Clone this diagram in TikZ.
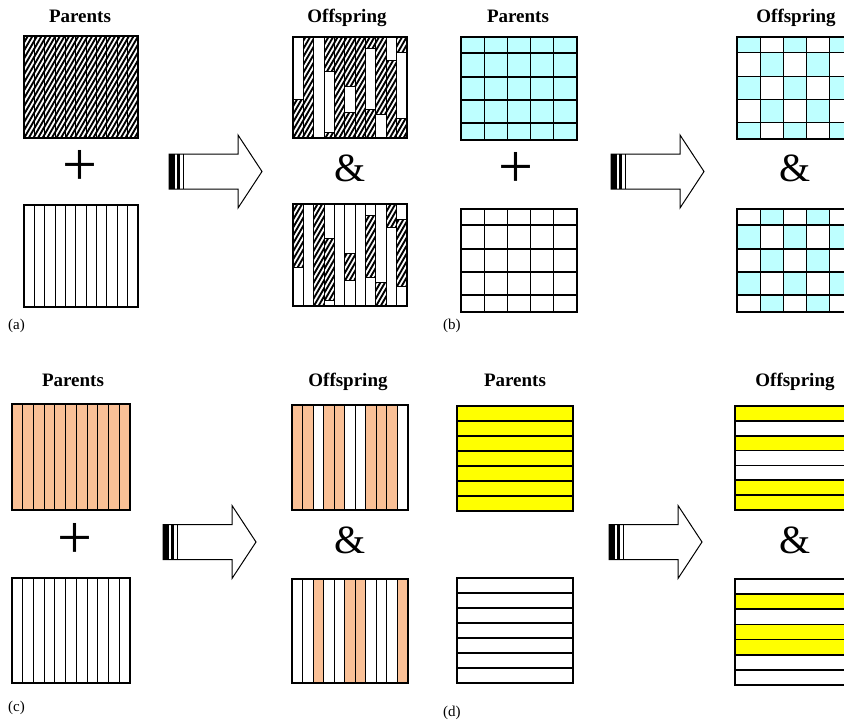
\documentclass[tikz,border=0pt]{standalone}
\usepackage{fontspec}
\setmainfont{Liberation Serif}
\definecolor{cyanL}{RGB}{190,255,255}
\definecolor{orangeL}{RGB}{250,192,150}
\definecolor{yel}{RGB}{255,255,0}
\tikzset{
 hatchline/.style={draw=black, line width=1.9pt},
 title/.style={font=\bfseries\fontsize{19}{19}\selectfont, inner sep=0pt, anchor=base},
 panellabel/.style={font=\fontsize{15}{15}\selectfont, inner sep=0pt, anchor=base west},
 plus/.style={font=\fontsize{62}{62}\selectfont, inner sep=0pt},
 amp/.style={font=\fontsize{40}{40}\selectfont, inner sep=0pt},
 boxline/.style={draw=black, line width=1.4pt},
 sep/.style={draw=black, line width=1pt},
 bigarrow/.pic={
  \draw[line width=1pt, fill=white] (0,-17.5) -- (69,-17.5) -- (69,-36.5) -- (93,0) -- (69,36.5) -- (69,17.5) -- (0,17.5) -- cycle;
  \fill[black] (0,-17.5) rectangle (6,17.5);
  \fill[black] (8.3,-17.5) rectangle (11,17.5);
  \draw[line width=1pt] (14,-17.5) -- (14,17.5);
 }
}
% hatched rectangle (diagonal lines rising to the right): x0 y0 x1 y1
\newcommand\hatchrect[4]{%
  \begin{scope}
   \clip ({#1},{#2}) rectangle ({#3},{#4});
   \fill[white] ({#1},{#2}) rectangle ({#3},{#4});
   \foreach \t in {-70,-65.4,...,120} \draw[hatchline] ({#1+\t},{#4+2}) -- ++(70,-121.2);
  \end{scope}
}
% vertical strips box: x0 y0 x1 y1
\newcommand\vstripsbox[4]{%
  \foreach \k in {1,...,10} \draw[sep] ({#1+\k*(#3-#1)/11},#2) -- ({#1+\k*(#3-#1)/11},#4);
  \draw[boxline] (#1,#2) rectangle (#3,#4);
}
% horizontal rows box (7 rows): x0 y0 x1 y1
\newcommand\hrowsbox[4]{%
  \foreach \k in {1,...,6} \draw[line width=1.6pt] (#1,{#2+\k*(#4-#2)/7}) -- (#3,{#2+\k*(#4-#2)/7});
  \draw[boxline] (#1,#2) rectangle (#3,#4);
}
% grid box 5x5 with uneven rows: x0 y0 x1 y1
\newcommand\gridbox[4]{%
  \foreach \k in {1,...,4} \draw[line width=1.3pt] ({#1+\k*(#3-#1)/5},#2) -- ({#1+\k*(#3-#1)/5},#4);
  \foreach \f in {0.155,0.388,0.612,0.835} \draw[line width=1.3pt] (#1,{#2+\f*(#4-#2)}) -- (#3,{#2+\f*(#4-#2)});
  \draw[boxline] (#1,#2) rectangle (#3,#4);
}
\begin{document}
\begin{tikzpicture}[x=1pt,y=-1pt]
\useasboundingbox (0,0) rectangle (844,720);
\clip (0,0) rectangle (844,720);
\fill[white] (0,0) rectangle (844,720);

% ================= panel (a)
\node[title] (tpa) at (80,22.5) {Parents};
\node[title] (toa) at (347,22.5) {Offspring};
\hatchrect{24}{36}{138}{138}
\vstripsbox{24}{36}{138}{138}
\node[plus] (plusa) at (80,168) {+};
\vstripsbox{24}{205}{138}{307}
\pic at (169,171.5) {bigarrow};
% offspring top
\hatchrect{293}{37}{407}{138}
\foreach \s/\a/\b in {0/0/0.62, 2/0/1, 3/0.34/0.95, 5/0.49/0.75, 7/0.11/0.72, 8/0.77/1, 9/0/0.23, 10/0.15/0.81}
  \draw[sep, fill=white] ({293+\s*114/11},{37+\a*101}) rectangle ({293+(\s+1)*114/11},{37+\b*101});
\vstripsbox{293}{37}{407}{138}
\node[amp] (ampa) at (350,168) {\&};
% offspring bottom
\foreach \s/\a/\b in {0/0/0.62, 2/0/1, 3/0.34/0.95, 5/0.49/0.75, 7/0.11/0.72, 8/0.77/1, 9/0/0.23, 10/0.15/0.81}{
  \hatchrect{293+\s*114/11}{204+\a*102}{293+(\s+1)*114/11}{204+\b*102}
  \draw[sep] ({293+\s*114/11},{204+\a*102}) rectangle ({293+(\s+1)*114/11},{204+\b*102});
}
\vstripsbox{293}{204}{407}{306}
\node[panellabel] (la) at (8,329) {(a)};

% ================= panel (b)
\node[title] (tpb) at (518,22.5) {Parents};
\node[title] (tob) at (796,22.5) {Offspring};
\fill[cyanL] (461,37) rectangle (577,140);
\gridbox{461}{37}{577}{140}
\node[plus] (plusb) at (516,170) {+};
\gridbox{461}{209}{577}{312}
\pic at (611,171.5) {bigarrow};
% offspring (checkerboard)
\foreach \i in {0,...,4}
 \foreach \j/\a/\b in {0/0/0.155, 1/0.155/0.388, 2/0.388/0.612, 3/0.612/0.835, 4/0.835/1}{
  \pgfmathparse{int(mod(\i+\j,2))}
  \ifnum\pgfmathresult=0
   \fill[cyanL] ({737+\i*116/5},{37+\a*102}) rectangle ({737+(\i+1)*116/5},{37+\b*102});
  \else
   \fill[cyanL] ({737+\i*116/5},{209+\a*103}) rectangle ({737+(\i+1)*116/5},{209+\b*103});
  \fi
 }
\gridbox{737}{37}{853}{139}
\node[amp] (ampb) at (795,168) {\&};
\gridbox{737}{209}{853}{312}
\node[panellabel] (lb) at (443,329) {(b)};

% ================= panel (c)
\node[title] (tpc) at (73,386.5) {Parents};
\node[title] (toc) at (348,386.5) {Offspring};
\fill[orangeL] (12,404) rectangle (130,510);
\vstripsbox{12}{404}{130}{510}
\node[plus] (plusc) at (75,541) {+};
\vstripsbox{12}{578}{130}{683}
\pic at (163,542) {bigarrow};
\foreach \s in {0,1,3,4,7,8,9}
  \fill[orangeL] ({292+\s*116/11},405) rectangle ({292+(\s+1)*116/11},510);
\vstripsbox{292}{405}{408}{510}
\node[amp] (ampc) at (350,540) {\&};
\foreach \s in {2,5,6,10}
  \fill[orangeL] ({292+\s*116/11},579) rectangle ({292+(\s+1)*116/11},683);
\vstripsbox{292}{579}{408}{683}
\node[panellabel] (lc) at (8,711) {(c)};

% ================= panel (d)
\node[title] (tpd) at (515,386.5) {Parents};
\node[title] (tod) at (795,386.5) {Offspring};
\fill[yel] (457,406) rectangle (573,511);
\hrowsbox{457}{406}{573}{511}
\hrowsbox{457}{578}{573}{683}
\pic at (609,542) {bigarrow};
\foreach \r in {0,2,5,6}
  \fill[yel] (735,{406+\r*104/7}) rectangle (851,{406+(\r+1)*104/7});
\hrowsbox{735}{406}{851}{510}
\node[amp] (ampd) at (795,540) {\&};
\foreach \r in {1,3,4}
  \fill[yel] (735,{579+\r*106/7}) rectangle (851,{579+(\r+1)*106/7});
\hrowsbox{735}{579}{851}{685}
\node[panellabel] (ld) at (443,716) {(d)};
\end{tikzpicture}
\end{document}
